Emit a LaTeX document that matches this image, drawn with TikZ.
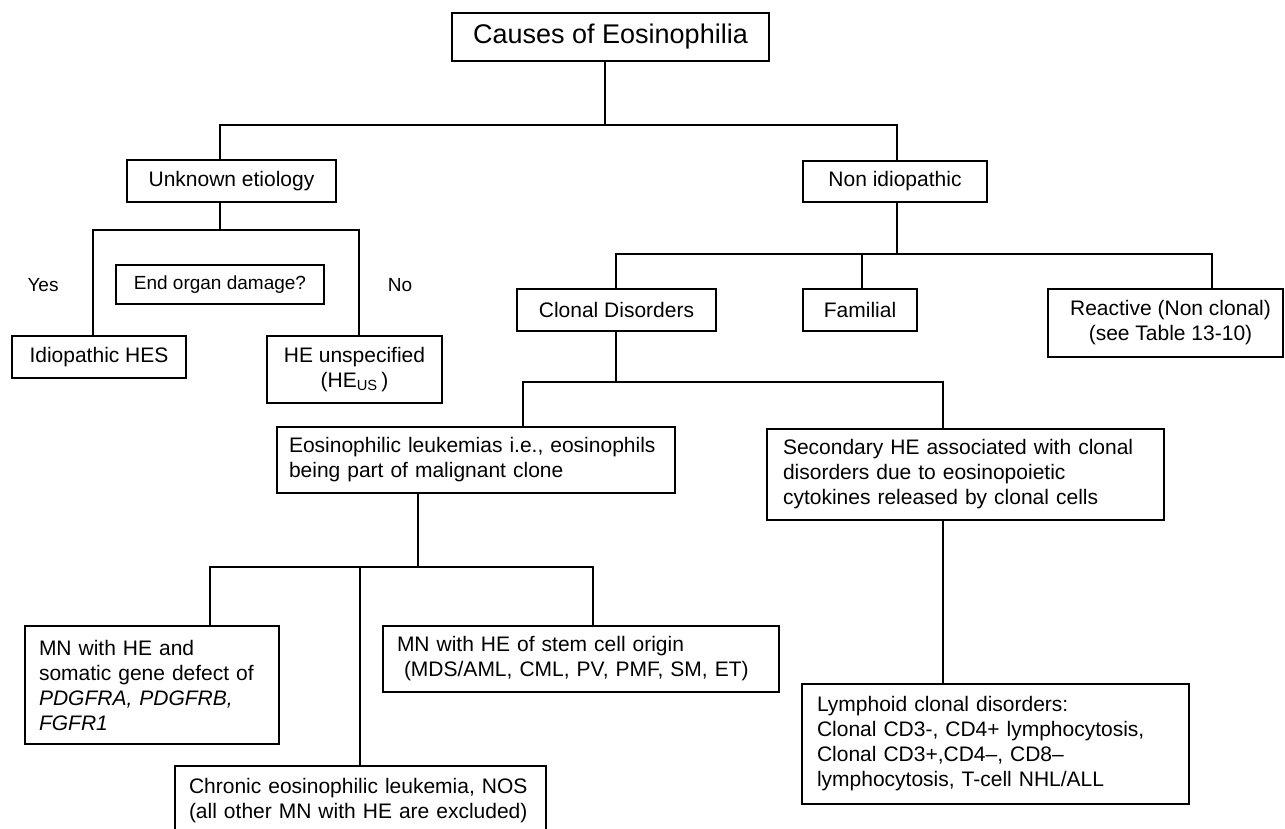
\documentclass[tikz,border=0pt]{standalone}
\usepackage{fontspec}
\setmainfont{Liberation Sans}
\usetikzlibrary{calc}
\tikzset{
	box/.style={draw, line width=1.3pt, inner sep=0pt, font=\fontsize{21}{25}\selectfont},
	txtbox/.style={box, align=left, inner xsep=14pt},
	link/.style={line width=1.3pt},
	note/.style={font=\fontsize{19}{23}\selectfont}
}

\begin{document}
\begin{tikzpicture}[x=1pt, y=-1pt]
			%%%%% START %%%%%
			
			\fill[white] (0, 0) rectangle (1285, 828);
			\useasboundingbox (0, 0) rectangle (1285, 828);
			
			% levels of the tree
			\coordinate (lvl1) at (0, 125);
			\coordinate (lvl2a) at (0, 230);
			\coordinate (lvl2b) at (0, 254);
			\coordinate (lvl3) at (0, 382);
			\coordinate (lvl4) at (0, 567);
			
			\node[box, font=\fontsize{27}{32}\selectfont, minimum width=317pt, minimum height=48pt] (title) at (610.5, 37) {Causes of Eosinophilia};
			
			\node[box, minimum width=209pt, minimum height=42pt] (unk) at (231.5, 181) {Unknown etiology};
			\node[box, minimum width=184pt, minimum height=41pt] (nonid) at (895, 181.5) {Non idiopathic};
			
			\node[box, note, minimum width=208pt, minimum height=39pt] (organ) at (220, 284.5) {End organ damage?};
			\node[note] (yes) at (43, 285) {Yes};
			\node[note] (no) at (400, 285) {No};
			\node[box, minimum width=174pt, minimum height=42pt] (idio) at (99, 357) {Idiopathic HES};
			\node[box, align=center, minimum width=175pt, minimum height=67pt] (heus) at (354.5, 369.5) {HE unspecified\\(HE\textsubscript{US}\,)};
			
			\node[box, minimum width=199pt, minimum height=42pt] (clonal) at (616.5, 310) {Clonal Disorders};
			\node[box, minimum width=114pt, minimum height=42pt] (fam) at (860, 310) {Familial};
			\node[box, align=center, minimum width=235pt, minimum height=68pt] (react) at (1165.5, 323) {\hspace*{10pt}Reactive (Non clonal)\\\hspace*{10pt}(see Table 13-10)};
			
			\node[txtbox, inner xsep=12pt, text width=374pt, minimum height=66pt] (eoleuk) at (476, 460) {Eosinophilic leukemias i.e., eosinophils\\being part of malignant clone};
			\node[txtbox, inner xsep=16pt, text width=365pt, minimum height=91pt] (second) at (965.5, 474.5) {Secondary HE associated with clonal\\disorders due to eosinopoietic\\cytokines released by clonal cells};
			
			\node[txtbox, text width=226pt, minimum height=118pt] (mngene) at (152, 685) {MN with HE and\\somatic gene defect of\\\textit{PDGFRA, PDGFRB,}\\\textit{FGFR1}};
			\node[txtbox, text width=368pt, minimum height=66pt] (mnstem) at (581, 659) {MN with HE of stem cell origin\\\hspace*{7pt}(MDS/AML, CML, PV, PMF, SM, ET)};
			\node[txtbox, text width=343pt, minimum height=70pt] (cel) at (360.5, 801) {Chronic eosinophilic leukemia, NOS\\(all other MN with HE are excluded)};
			\node[txtbox, inner xsep=15pt, text width=357pt, minimum height=120pt] (lymph) at (995.5, 744) {Lymphoid clonal disorders:\\Clonal CD3-, CD4+ lymphocytosis,\\Clonal CD3+,CD4--, CD8--\\lymphocytosis, T-cell NHL/ALL};
			
			% connectors
			\draw[link] ([xshift=-5.5]title.south) -- ([xshift=-5.5]title.south |- lvl1);
			\draw[link] ([xshift=-11.5]unk.north) |- ([xshift=2]nonid.north |- lvl1) -- ([xshift=2]nonid.north);
			
			\draw[link] ([xshift=-11.5]unk.south) -- ([xshift=-11.5]unk.south |- lvl2a);
			\draw[link] ([xshift=-6]idio.north) |- ([xshift=4.5]heus.north |- lvl2a) -- ([xshift=4.5]heus.north);
			
			\draw[link] ([xshift=2]nonid.south) -- ([xshift=2]nonid.south |- lvl2b);
			\draw[link] ([xshift=-0.5]clonal.north) |- ([xshift=46.5]react.north |- lvl2b) -- ([xshift=46.5]react.north);
			\draw[link] ([xshift=2]fam.north) -- ([xshift=2]fam.north |- lvl2b);
			
			\draw[link] ([xshift=-0.5]clonal.south) -- ([xshift=-0.5]clonal.south |- lvl3);
			\draw[link] ([xshift=47]eoleuk.north) |- ([xshift=-22.5]second.north |- lvl3) -- ([xshift=-22.5]second.north);
			
			\draw[link] ([xshift=-58]eoleuk.south) -- ([xshift=-58]eoleuk.south |- lvl4);
			\draw[link] ([xshift=58]mngene.north) |- ([xshift=12]mnstem.north |- lvl4) -- ([xshift=12]mnstem.north);
			\draw[link] ([xshift=-0.5]cel.north) -- ([xshift=-0.5]cel.north |- lvl4);
			
			\draw[link] ([xshift=-22.5]second.south) -- ([xshift=-52.5]lymph.north);
			
			%%%%% END %%%%%
\end{tikzpicture}
\end{document}
